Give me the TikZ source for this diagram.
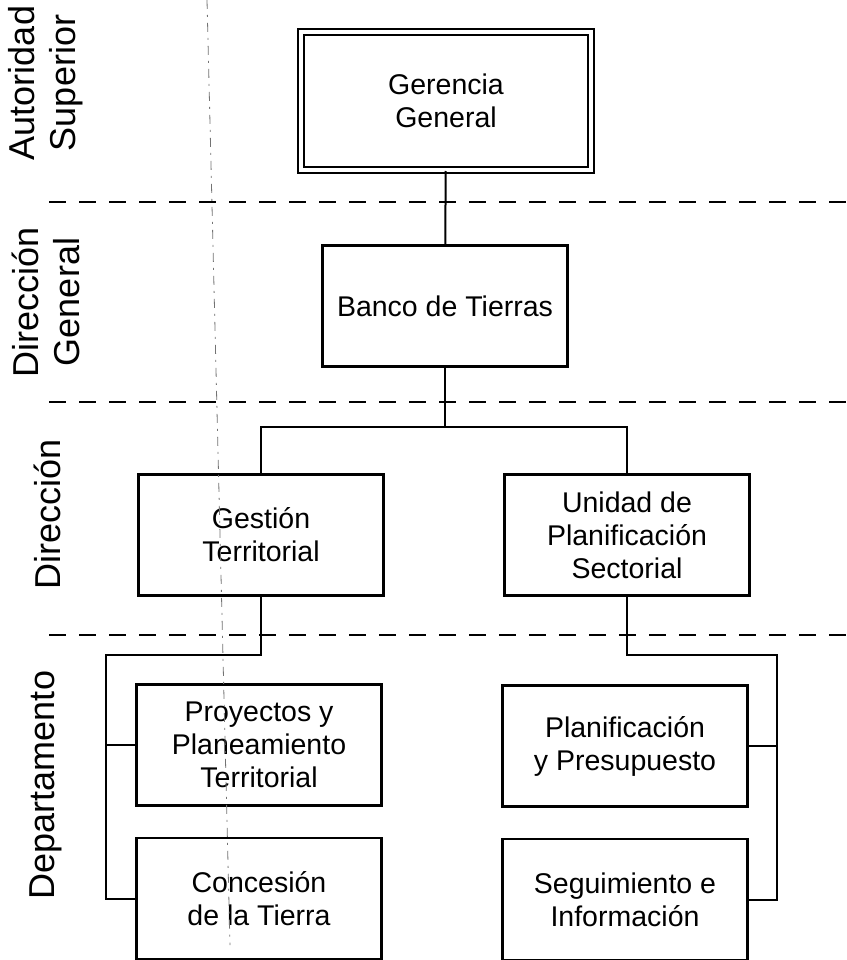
\documentclass[tikz,border=0pt]{standalone}
\usepackage{fontspec}
\setmainfont{Liberation Sans}
\usetikzlibrary{positioning}

\begin{document}
\begin{tikzpicture}[
        x=1pt, y=-1pt,
        every path/.style={line width=2pt},
        unit/.style={draw, line width=2.5pt, minimum width=245pt, minimum height=121pt, inner sep=0pt, align=center, font=\fontsize{28.5}{33}\selectfont},
        topunit/.style={draw, double, line width=2pt, double distance=4pt, minimum width=290pt, minimum height=138pt, inner sep=0pt, align=center, font=\fontsize{28.5}{33}\selectfont},
        tierlabel/.style={rotate=90, align=center, inner sep=0pt, font=\fontsize{36}{41}\selectfont},
        divider/.style={line width=2pt, dash pattern=on 17pt off 13pt},
        fold/.style={black!55, line width=0.8pt, dash pattern=on 9pt off 6pt on 2pt off 6pt}
    ]
    \useasboundingbox (0,0) rectangle (846,960);

    % Levels
    \foreach \ly in {202,402,635}
        \draw[divider] (49,\ly) -- (846,\ly);

    \node (lblsup)[tierlabel] at (46,83) {Autoridad\\Superior};
    \node (lbldirgen)[tierlabel] at (46,302) {Dirección\\General};
    \node (lbldir)[tierlabel] at (47,514) {Dirección};
    \node (lbldep)[tierlabel] at (46,785) {Departamento};

    % Nodes
    \node (gerencia)[topunit] at (446,101) {Gerencia\\General};
    \node (banco)[unit] at (445,306) {Banco de Tierras};

    \node (gestion)[unit] at (261,535) {Gestión\\Territorial};
    \node (unidad)[unit] at (627,535) {Unidad de\\Planificación\\Sectorial};

    \node (proyectos)[unit] at (259,745) {Proyectos y\\Planeamiento\\Territorial};
    \node (concesion)[unit, below=30pt of proyectos] {Concesión\\de la Tierra};

    \node (planif)[unit] at (625,746) {Planificación\\y Presupuesto};
    \node (seguim)[unit, below=30pt of planif] {Seguimiento e\\Información};

    \coordinate (midbus) at (445,427);
    \coordinate (leftbus) at (106,655);
    \coordinate (rightbus) at (777,655);

    % Edges
    \draw (gerencia) -- (banco);
    \draw (banco) -- (midbus);
    \draw (gestion.north) |- (midbus) -| (unidad.north);

    \draw (gestion.south) |- (leftbus) |- (concesion.west);
    \draw (leftbus |- proyectos.west) -- (proyectos.west);

    \draw (unidad.south) |- (rightbus) |- (seguim.east);
    \draw (rightbus |- planif.east) -- (planif.east);

    % fold mark
    \draw[fold] (207,0) -- (230,945);
\end{tikzpicture}
\end{document}
